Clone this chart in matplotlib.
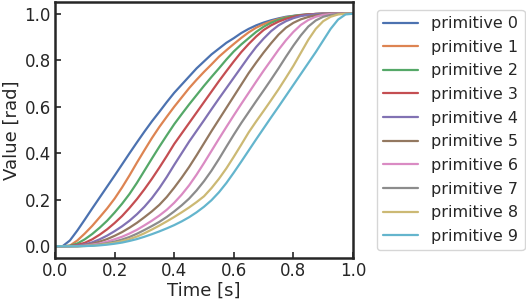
import matplotlib
matplotlib.use("Agg")
import matplotlib.pyplot as plt
import seaborn as sns

# time samples (every 0.025 s)
time = [0.000, 0.025, 0.050, 0.075, 0.100, 0.125, 0.150, 0.175, 0.200, 0.225,
        0.250, 0.275, 0.300, 0.325, 0.350, 0.375, 0.400, 0.425, 0.450, 0.475,
        0.500, 0.525, 0.550, 0.575, 0.600, 0.625, 0.650, 0.675, 0.700, 0.725,
        0.750, 0.775, 0.800, 0.825, 0.850, 0.875, 0.900, 0.925, 0.950, 0.975,
        1.000]

# values, one list per primitive
prim0 = [0, 0, 0.025, 0.068, 0.115, 0.163, 0.21, 0.257, 0.304, 0.352,
         0.40, 0.447, 0.493, 0.537, 0.578, 0.62, 0.66, 0.695, 0.73, 0.765,
         0.795, 0.825, 0.85, 0.875, 0.895, 0.917, 0.935, 0.95, 0.962, 0.972,
         0.98, 0.987, 0.991, 0.995, 0.997, 0.999, 1.0, 1.0, 1.0, 1.0,
         1.0]
prim1 = [0, 0, 0.003, 0.025, 0.055, 0.088, 0.125, 0.163, 0.205, 0.253,
         0.305, 0.36, 0.413, 0.465, 0.513, 0.557, 0.60, 0.64, 0.68, 0.716,
         0.75, 0.782, 0.815, 0.843, 0.87, 0.896, 0.92, 0.94, 0.955, 0.967,
         0.977, 0.985, 0.99, 0.994, 0.997, 0.999, 1.0, 1.0, 1.0, 1.0,
         1.0]
prim2 = [0, 0, 0.002, 0.012, 0.03, 0.053, 0.08, 0.11, 0.145, 0.183,
         0.225, 0.273, 0.325, 0.377, 0.428, 0.477, 0.525, 0.568, 0.61, 0.65,
         0.69, 0.728, 0.765, 0.803, 0.838, 0.868, 0.895, 0.922, 0.944, 0.961,
         0.974, 0.983, 0.99, 0.994, 0.997, 0.999, 1.0, 1.0, 1.0, 1.0,
         1.0]
prim3 = [0, 0, 0.001, 0.006, 0.015, 0.03, 0.05, 0.073, 0.10, 0.13,
         0.165, 0.203, 0.245, 0.29, 0.338, 0.388, 0.44, 0.485, 0.53, 0.575,
         0.62, 0.665, 0.71, 0.753, 0.795, 0.835, 0.87, 0.902, 0.93, 0.95,
         0.966, 0.978, 0.987, 0.993, 0.997, 0.999, 1.0, 1.0, 1.0, 1.0,
         1.0]
prim4 = [0, 0, 0, 0.003, 0.008, 0.017, 0.03, 0.046, 0.065, 0.086,
         0.11, 0.138, 0.17, 0.207, 0.25, 0.298, 0.35, 0.40, 0.45, 0.496,
         0.542, 0.589, 0.635, 0.68, 0.725, 0.77, 0.815, 0.857, 0.893, 0.925,
         0.95, 0.968, 0.981, 0.99, 0.995, 0.998, 1.0, 1.0, 1.0, 1.0,
         1.0]
prim5 = [0, 0, 0, 0.001, 0.005, 0.011, 0.02, 0.031, 0.045, 0.061,
         0.08, 0.101, 0.125, 0.15, 0.178, 0.212, 0.252, 0.295, 0.341, 0.391,
         0.443, 0.495, 0.545, 0.595, 0.645, 0.695, 0.745, 0.79, 0.833, 0.873,
         0.91, 0.94, 0.961, 0.976, 0.986, 0.993, 0.997, 1.0, 1.0, 1.0,
         1.0]
prim6 = [0, 0, 0, 0, 0.003, 0.007, 0.012, 0.02, 0.03, 0.041,
         0.055, 0.071, 0.09, 0.11, 0.132, 0.157, 0.187, 0.222, 0.262, 0.308,
         0.358, 0.41, 0.462, 0.513, 0.563, 0.612, 0.66, 0.708, 0.755, 0.80,
         0.845, 0.886, 0.922, 0.952, 0.973, 0.987, 0.995, 0.999, 1.0, 1.0,
         1.0]
prim7 = [0, 0, 0, 0, 0.002, 0.004, 0.008, 0.013, 0.02, 0.029,
         0.04, 0.054, 0.07, 0.087, 0.105, 0.126, 0.15, 0.176, 0.205, 0.24,
         0.28, 0.325, 0.375, 0.428, 0.48, 0.53, 0.577, 0.624, 0.67, 0.717,
         0.765, 0.815, 0.863, 0.907, 0.945, 0.971, 0.987, 0.995, 0.999, 1.0,
         1.0]
prim8 = [0, 0, 0, 0, 0.001, 0.003, 0.006, 0.01, 0.015, 0.022,
         0.031, 0.042, 0.056, 0.072, 0.089, 0.107, 0.126, 0.146, 0.167, 0.19,
         0.215, 0.25, 0.29, 0.335, 0.385, 0.437, 0.49, 0.537, 0.582, 0.628,
         0.675, 0.725, 0.776, 0.832, 0.888, 0.935, 0.968, 0.987, 0.997, 1.0,
         1.0]
prim9 = [0, 0, 0, 0, 0.001, 0.002, 0.004, 0.007, 0.011, 0.016,
         0.023, 0.031, 0.041, 0.052, 0.064, 0.077, 0.091, 0.107, 0.125, 0.146,
         0.17, 0.198, 0.232, 0.272, 0.317, 0.364, 0.412, 0.46, 0.507, 0.554,
         0.60, 0.647, 0.694, 0.741, 0.788, 0.835, 0.885, 0.935, 0.975, 0.997,
         1.0]

primitives = [prim0, prim1, prim2, prim3, prim4, prim5, prim6, prim7, prim8, prim9]
labels = ["primitive %d" % i for i in range(len(primitives))]

sns.set_theme(style="white", palette="deep")
plt.rcParams['font.family'] = ['DejaVu Sans']
plt.rcParams['xtick.direction'] = 'in'
plt.rcParams['ytick.direction'] = 'in'

fig = plt.figure(figsize=(5.26, 3.02), dpi=100)
ax = fig.add_axes([0.1046, 0.146, 0.5665, 0.847])

for vals, lab in zip(primitives, labels):
    ax.plot(time, vals, lw=1.6, label=lab)

ax.set_xlim(0, 1)
ax.set_ylim(-0.05, 1.05)
ax.set_xticks([0.0, 0.2, 0.4, 0.6, 0.8, 1.0])
ax.set_yticks([0.0, 0.2, 0.4, 0.6, 0.8, 1.0])
ax.tick_params(labelsize=12, length=4, width=1.2, colors='#262626',
               bottom=True, left=True, pad=3)
ax.set_xlabel("Time [s]", fontsize=13, labelpad=1)
ax.set_ylabel("Value [rad]", fontsize=13, labelpad=3)
for sp in ax.spines.values():
    sp.set_linewidth(1.8)
    sp.set_color('#262626')

ax.legend(loc='center left', bbox_to_anchor=(1.08, 0.5), borderaxespad=0,
          fontsize=11.5, frameon=True, handlelength=2.2, labelspacing=0.54)

fig.savefig("out.png", dpi=100)
